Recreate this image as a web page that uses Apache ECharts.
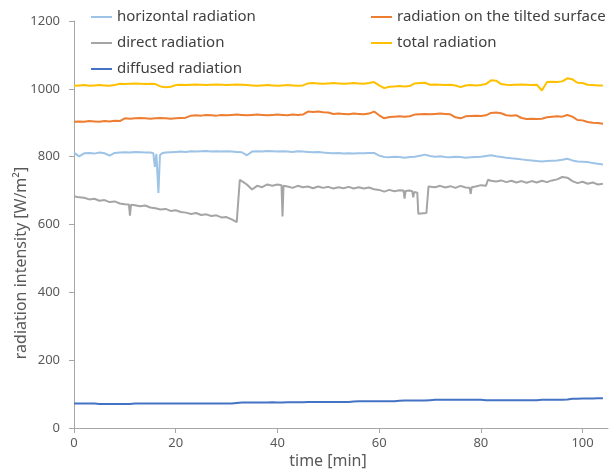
<!DOCTYPE html>
<html>
<head>
<meta charset="utf-8">
<script src="https://cdn.jsdelivr.net/npm/echarts@6/dist/echarts.min.js"></script>
<style>
  html, body { margin: 0; padding: 0; background: #fff; }
  #container { width: 611px; height: 472px; }
</style>
</head>
<body>
<div id="container"></div>
<script>
var dom = document.getElementById("container");
var myChart = echarts.init(dom);

// time [min], one reading per minute
var minutes = [0, 1, 2, 3, 4, 5, 6, 7, 8, 9, 10, 11, 12, 13, 14, 15, 16, 17, 18, 19,
    20, 21, 22, 23, 24, 25, 26, 27, 28, 29, 30, 31, 32, 33, 34, 35, 36, 37, 38, 39,
    40, 41, 42, 43, 44, 45, 46, 47, 48, 49, 50, 51, 52, 53, 54, 55, 56, 57, 58, 59,
    60, 61, 62, 63, 64, 65, 66, 67, 68, 69, 70, 71, 72, 73, 74, 75, 76, 77, 78, 79,
    80, 81, 82, 83, 84, 85, 86, 87, 88, 89, 90, 91, 92, 93, 94, 95, 96, 97, 98, 99,
    100, 101, 102, 103, 104];

// horizontal radiation has two short drops near minute 16
var horizontalMinutes = [0, 1, 2, 3, 4, 5, 6, 7, 8, 9, 10, 11, 12, 13, 14, 15, 15.6, 15.9, 16.2, 16.4, 16.6, 16.9, 17.5, 18, 19,
    20, 21, 22, 23, 24, 25, 26, 27, 28, 29, 30, 31, 32, 33, 34, 35, 36, 37, 38, 39,
    40, 41, 42, 43, 44, 45, 46, 47, 48, 49, 50, 51, 52, 53, 54, 55, 56, 57, 58, 59,
    60, 61, 62, 63, 64, 65, 66, 67, 68, 69, 70, 71, 72, 73, 74, 75, 76, 77, 78, 79,
    80, 81, 82, 83, 84, 85, 86, 87, 88, 89, 90, 91, 92, 93, 94, 95, 96, 97, 98, 99,
    100, 101, 102, 103, 104];
var horizontal = [812, 801, 810, 811, 809, 812, 810, 803, 811, 812, 813, 812, 814, 813, 812, 812, 810, 770, 808, 806, 693, 805, 811, 812, 813,
    814, 815, 814, 816, 815, 816, 817, 815, 816, 815, 816, 815, 814, 813, 804, 815, 816, 815, 817, 816,
    815, 816, 815, 814, 816, 815, 814, 813, 814, 812, 811, 810, 811, 809, 810, 809, 810, 810, 811, 811,
    803, 799, 798, 800, 799, 797, 799, 800, 803, 806, 802, 800, 801, 799, 798, 800, 799, 797, 798, 799,
    800, 802, 804, 801, 799, 797, 795, 794, 792, 790, 789, 787, 786, 787, 788, 789, 791, 794, 789, 786,
    785, 784, 781, 779, 777];

var tilted = [903, 904, 903, 905, 904, 903, 905, 904, 906, 905, 913, 912, 913, 914, 913, 912, 913, 914, 913, 912,
    913, 914, 915, 921, 922, 921, 923, 922, 921, 923, 922, 923, 924, 923, 922, 923, 924, 923, 922, 923,
    924, 923, 922, 924, 923, 924, 933, 932, 933, 931, 930, 926, 927, 926, 925, 927, 926, 925, 927, 933,
    922, 913, 917, 918, 919, 918, 919, 924, 925, 926, 925, 926, 927, 926, 925, 916, 913, 919, 920, 921,
    920, 922, 929, 930, 928, 922, 921, 922, 914, 911, 912, 911, 912, 916, 918, 919, 918, 923, 918, 908,
    907, 902, 900, 899, 897];

// direct radiation, with the short drops and steps read at finer times
var directMinutes = [0, 1, 2, 3, 4, 5, 6, 7, 8, 9, 10, 10.8, 11, 11.2, 12, 13, 14, 15, 16, 17, 18, 19,
    20, 21, 22, 23, 24, 25, 26, 27, 28, 29, 30, 31, 32, 32.6, 33.3, 34, 35, 36, 37, 38, 39,
    40, 40.8, 41, 41.2, 42, 43, 44, 45, 46, 47, 48, 49, 50, 51, 52, 53, 54, 55, 56, 57, 58, 59,
    60, 61, 62, 63, 64, 64.8, 65, 65.2, 66, 66.5, 66.7, 66.9, 67.5, 67.7, 69.3, 69.7, 70, 71, 72, 73, 74, 75, 76, 77, 77.8, 78, 78.2, 79,
    80, 81, 81.4, 82, 83, 84, 85, 86, 87, 88, 89, 90, 91, 92, 93, 94, 95, 96, 97, 98, 99,
    100, 101, 102, 103, 104];
var direct = [683, 680, 679, 674, 676, 670, 672, 666, 668, 662, 660, 659, 626, 658, 657, 654, 656, 650, 648, 644, 646, 640,
    642, 637, 635, 631, 634, 628, 630, 625, 627, 621, 622, 615, 607, 732, 725, 718, 703, 714, 710, 718, 714,
    718, 716, 624, 714, 712, 708, 714, 710, 712, 707, 712, 708, 711, 706, 710, 707, 711, 706, 710, 706, 709, 704,
    702, 697, 702, 698, 701, 700, 676, 699, 700, 698, 680, 696, 694, 632, 634, 712, 715, 710, 714, 709, 713, 708, 714, 709, 708, 690, 710, 712,
    716, 714, 732, 729, 727, 730, 725, 729, 724, 728, 723, 728, 724, 729, 725, 730, 733, 740, 738, 728, 722,
    726, 720, 724, 718, 720];

var total = [1009, 1010, 1011, 1009, 1010, 1011, 1010, 1009, 1011, 1015, 1014, 1015, 1016, 1015, 1014, 1015, 1014, 1007, 1005, 1006,
    1011, 1012, 1011, 1012, 1013, 1012, 1011, 1012, 1013, 1012, 1011, 1012, 1013, 1012, 1011, 1010, 1009, 1010, 1011, 1010,
    1009, 1010, 1011, 1010, 1009, 1010, 1016, 1017, 1016, 1015, 1016, 1017, 1016, 1015, 1016, 1017, 1016, 1015, 1017, 1020,
    1010, 1002, 1006, 1007, 1008, 1007, 1008, 1016, 1017, 1018, 1012, 1013, 1012, 1011, 1012, 1010, 1005, 1010, 1011, 1010,
    1011, 1014, 1025, 1024, 1014, 1012, 1011, 1012, 1013, 1012, 1011, 1012, 995, 1020, 1021, 1020, 1022, 1031, 1028, 1018,
    1017, 1012, 1011, 1010, 1010];

var diffused = [72, 72, 72, 72, 72, 71, 71, 71, 71, 71, 71, 71, 72, 72, 72, 72, 72, 72, 72, 72,
    72, 72, 72, 72, 72, 72, 72, 72, 72, 72, 72, 72, 74, 75, 75, 75, 75, 75, 75, 76,
    75, 75, 76, 76, 76, 76, 77, 77, 77, 77, 77, 77, 77, 77, 77, 78, 79, 79, 79, 79,
    79, 79, 79, 79, 80, 81, 81, 81, 81, 81, 82, 83, 83, 83, 83, 83, 83, 83, 83, 83,
    83, 82, 82, 82, 82, 82, 82, 82, 82, 82, 82, 82, 83, 83, 83, 83, 83, 84, 86, 86,
    87, 87, 87, 88, 88];

var yTicks = [0, 200, 400, 600, 800, 1000, 1200];
var xTicks = [0, 20, 40, 60, 80, 100];

function pairs(times, values) {
    var out = [];
    for (var i = 0; i < values.length; i++) {
        out.push([times[i], values[i]]);
    }
    return out;
}

var font = 'Noto Sans';
var axisColor = '#a6a6a6';
var labelColor = '#595959';

function lineSeries(name, times, values, color) {
    return {
        name: name,
        type: 'line',
        showSymbol: false,
        symbol: 'none',
        animation: false,
        lineStyle: { color: color, width: 2 },
        itemStyle: { color: color },
        data: pairs(times, values)
    };
}

var legendText = { color: '#404040', fontFamily: font, fontSize: 15, lineHeight: 16 };

option = {
    backgroundColor: '#ffffff',
    animation: false,
    grid: { left: 74, right: 3, top: 21, bottom: 44 },
    legend: [{
        left: 86, top: 4, orient: 'vertical', icon: 'rect',
        itemWidth: 21, itemHeight: 2, itemGap: 10,
        textStyle: legendText,
        data: ['horizontal radiation', 'direct radiation', 'diffused radiation']
    }, {
        left: 366, top: 4, orient: 'vertical', icon: 'rect',
        itemWidth: 21, itemHeight: 2, itemGap: 10,
        textStyle: legendText,
        data: ['radiation on the tilted surface', 'total radiation']
    }],
    xAxis: {
        type: 'value',
        min: 0, max: 105, interval: 20,
        splitLine: { show: false },
        axisLine: { lineStyle: { color: axisColor } },
        axisTick: { length: 5, lineStyle: { color: axisColor } },
        axisLabel: {
            color: labelColor, fontFamily: font, fontSize: 13, margin: 9,
            showMaxLabel: false,
            formatter: function (v) { return xTicks.indexOf(v) >= 0 ? String(v) : ''; }
        }
    },
    yAxis: {
        type: 'value',
        min: yTicks[0], max: yTicks[yTicks.length - 1], interval: 200,
        splitLine: { show: false },
        axisLine: { show: true, lineStyle: { color: axisColor } },
        axisTick: { show: true, length: 5, lineStyle: { color: axisColor } },
        axisLabel: {
            color: labelColor, fontFamily: font, fontSize: 13, margin: 14,
            formatter: function (v) { return String(v); }
        }
    },
    graphic: [{
        type: 'text',
        x: 21, y: 263, rotation: Math.PI / 2,
        style: {
            text: 'radiation intensity [W/m²]',
            fill: labelColor, font: '16px "Noto Sans"',
            textAlign: 'center', textVerticalAlign: 'middle'
        }
    }, {
        type: 'text',
        x: 328, y: 461,
        style: {
            text: 'time [min]',
            fill: labelColor, font: '16px "Noto Sans"',
            textAlign: 'center', textVerticalAlign: 'middle'
        }
    }],
    series: [
        lineSeries('horizontal radiation', horizontalMinutes, horizontal, '#9dc3e6'),
        lineSeries('radiation on the tilted surface', minutes, tilted, '#ed7d31'),
        lineSeries('direct radiation', directMinutes, direct, '#a5a5a5'),
        lineSeries('total radiation', minutes, total, '#ffc000'),
        lineSeries('diffused radiation', minutes, diffused, '#4472c4')
    ]
};

if (option && typeof option === "object") {
    myChart.setOption(option, true);
}
</script>
</body>
</html>
